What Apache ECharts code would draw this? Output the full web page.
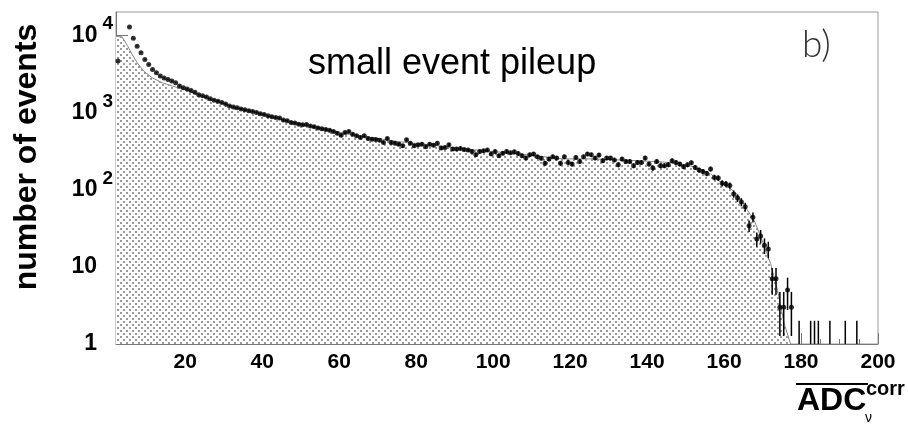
<!DOCTYPE html>
<html>
<head>
<meta charset="utf-8">
<script src="https://cdn.jsdelivr.net/npm/echarts@6/dist/echarts.min.js"></script>
<style>
html, body { margin: 0; padding: 0; background: #fff; }
#chart { width: 908px; height: 425px; }
</style>
</head>
<body>
<div id="chart"></div>
<script>
// bins are 1 wide, first bin centred on 2.5
var firstBin = 2.5;
var counts = [
  4620, null, null, 12800, 9150, 7220, 5910, 4860, 4190, 3610,
  3270, 2960, 2790, 2680, 2550, 2430, 2200, 2090, 2010,
  1920, 1820, 1700, 1640, 1580, 1500, 1440, 1400, 1340, 1290,
  1210, 1180, 1150, 1110, 1080, 1050, 1030, 1000, 960, 940,
  905, 880, 860, 845, 795, 780, 740, 730, 705, 690,
  700, 665, 650, 630, 615, 600,
  589, 566, 539, 508, 549, 566, 523, 497, 473, 497, 459,
  450, 446, 437, 408, 459, 408, 400, 388, 370, 442, 400, 370,
  380, 388, 359, 388, 377, 400, 345, 352, 381, 335, 335, 341,
  330, 325, 312, 283, 312, 319, 325, 289, 312, 275, 297, 312,
  300, 309, 294, 275, 256, 283, 289, 267,
  255, 219, 249, 267, 256, 219,
  267, 225, 214, 261, 232, 267, 289, 283, 256, 280,
  237, 256, 256, 242, 210, 249, 232, 232, 204, 225,
  225, 256, 214, 190, 232, 204, 204, 210, 237, 225,
  214, 198, 210, 223, 194, 179, 172, 162, 185,
  144, 141, 121, 118, 113, 88, 78, 69, 60, 34,
  44, 23, 25, 19, 17, 7, 7, 3, 3, 5, 3
];
// single-entry bins in the tail
var tailX = [179.5, 182.5, 183.5, 184.5, 187.5, 191.5, 194.5];
var tailCounts = [1, 1, 1, 1, 1, 1, 1];

// simulated (shaded) distribution
var mcX = [2, 3.6, 4.9, 6.2, 7.5, 9.2, 11.4, 14, 16.6, 19.5, 24, 28, 32.5, 37, 41, 45.5,
  50, 54, 58.5, 62, 66, 75, 84, 92, 101, 110, 118, 126, 135, 144, 148, 152, 156.5,
  159, 161, 163.5, 166, 167.8, 169.5, 172.1, 173.9, 175.6, 177.3];
var mcY = [9700, 9500, 7430, 5640, 4400, 3430, 2810, 2430, 2200, 2000, 1650, 1400, 1180, 1040, 920, 800,
  705, 640, 580, 525, 495, 420, 378, 338, 308, 278, 250, 250, 240, 228, 218, 198, 160,
  126, 110, 86, 55, 40, 25, 11, 5, 1.85, 1];

var xLabels = [20, 40, 60, 80, 100, 120, 140, 160, 180, 200];
var xMinor = [5, 10, 15, 25, 30, 35, 45, 50, 55, 65, 70, 75, 85, 90, 95, 105, 110, 115,
  125, 130, 135, 145, 150, 155, 165, 170, 175, 185, 190, 195];
var yLabels = [1, 10, 100, 1000, 10000];
var yMinor = [2, 3, 4, 5, 6, 7, 8, 9, 20, 30, 40, 50, 60, 70, 80, 90,
  200, 300, 400, 500, 600, 700, 800, 900, 2000, 3000, 4000, 5000, 6000, 7000, 8000, 9000];

var points = [];
var bars = [];
for (var i = 0; i < counts.length; i++) {
  var n = counts[i];
  if (n == null) continue;
  var x = firstBin + i;
  points.push([x, n]);
  bars.push([x, Math.max(n - Math.sqrt(n), 1), n + Math.sqrt(n)]);
}
for (var j = 0; j < tailX.length; j++) {
  var t = tailCounts[j];
  bars.push([tailX[j], Math.max(t - Math.sqrt(t), 1), t + Math.sqrt(t)]);
}
var mcData = [];
for (var k = 0; k < mcX.length; k++) mcData.push([mcX[k], mcY[k]]);

// dotted fill
var pat = document.createElement('canvas');
pat.width = 6; pat.height = 6;
var pc = pat.getContext('2d');
pc.fillStyle = '#fff';
pc.fillRect(0, 0, 6, 6);
pc.fillStyle = '#9a9a9a';
pc.fillRect(0, 0, 2, 2);
pc.fillRect(3, 3, 2, 2);

var font = 'Liberation Sans, Arial, Helvetica, sans-serif';
var myChart = echarts.init(document.getElementById('chart'));

var option = {
  backgroundColor: '#fff',
  animation: false,
  grid: {
    left: 116, right: 30, top: 12, bottom: 81,
    show: true, borderColor: '#999', borderWidth: 1,
    containLabel: false, outerBoundsMode: 'none'
  },
  xAxis: [{
    type: 'value', min: 2, max: 200,
    axisLine: { lineStyle: { color: '#777', width: 1 } },
    axisTick: { inside: true, length: 11, customValues: xLabels, lineStyle: { color: '#777' } },
    axisLabel: {
      customValues: xLabels, margin: 8,
      color: '#000', fontSize: 21, fontWeight: 'bold', fontFamily: font
    },
    splitLine: { show: false }
  }, {
    type: 'value', min: 2, max: 200, position: 'bottom',
    axisLine: { show: false },
    axisTick: { inside: true, length: 5, customValues: xMinor, lineStyle: { color: '#777' } },
    axisLabel: { show: false },
    splitLine: { show: false }
  }],
  yAxis: [{
    type: 'log', min: 1, max: 20000,
    axisLine: { lineStyle: { color: '#777', width: 1 } },
    axisTick: { inside: true, length: 12, customValues: yLabels, lineStyle: { color: '#777' } },
    axisLabel: {
      customValues: yLabels, margin: 3,
      formatter: function (v) {
        var e = Math.round(Math.log10(v));
        if (e === 0) return '{b|1}{p| }';
        if (e === 1) return '{b|10}{p| }';
        return '{b|10}{s|' + e + '}';
      },
      rich: {
        b: { fontSize: 23, fontWeight: 'bold', fontFamily: font, color: '#000' },
        s: { fontSize: 19, fontWeight: 'bold', fontFamily: font, color: '#000', padding: [0, 0, 22, 5] },
        p: { width: 16, fontSize: 19 }
      }
    },
    splitLine: { show: false }
  }, {
    type: 'log', min: 1, max: 20000, position: 'left',
    axisLine: { show: false },
    axisTick: { inside: true, length: 6, customValues: yMinor, lineStyle: { color: '#777' } },
    axisLabel: { show: false },
    splitLine: { show: false }
  }],
  graphic: [
    {
      type: 'text', x: 308, y: 64,
      style: { text: 'small event pileup', fontSize: 36, fontFamily: font, fill: '#000',
        align: 'left', verticalAlign: 'middle' }
    },
    {
      type: 'text', x: 802, y: 45,
      style: { text: 'b)', fontSize: 37, fontFamily: 'Lato, DejaVu Sans', fontWeight: 300, fill: '#333',
        align: 'left', verticalAlign: 'middle' }
    },
    {
      type: 'text', x: 27, y: 157, rotation: Math.PI / 2,
      style: { text: 'number of events', fontSize: 32, fontWeight: 'bold', fontFamily: font, fill: '#000',
        align: 'center', verticalAlign: 'middle' }
    },
    {
      type: 'line', shape: { x1: 796, y1: 384, x2: 868, y2: 384 },
      style: { stroke: '#000', lineWidth: 2 }
    },
    {
      type: 'text', x: 797, y: 401,
      style: { text: 'ADC', fontSize: 32, fontWeight: 'bold', fontFamily: font, fill: '#000',
        align: 'left', verticalAlign: 'middle' }
    },
    {
      type: 'text', x: 866, y: 389,
      style: { text: 'corr', fontSize: 20, fontWeight: 'bold', fontFamily: font, fill: '#000',
        align: 'left', verticalAlign: 'middle' }
    },
    {
      type: 'text', x: 865, y: 418,
      style: { text: 'ν', fontSize: 14, fontFamily: font, fill: '#000',
        align: 'left', verticalAlign: 'middle' }
    }
  ],
  series: [
    {
      name: 'mc', type: 'line', data: mcData, showSymbol: false, symbol: 'none',
      lineStyle: { color: '#888', width: 1 },
      areaStyle: { color: { image: pat, repeat: 'repeat' }, opacity: 1, origin: 'start' },
      z: 1
    },
    {
      name: 'errors', type: 'custom', data: bars, clip: true,
      encode: { x: 0, y: [1, 2] },
      renderItem: function (params, api) {
        var a = api.coord([api.value(0), api.value(1)]);
        var b = api.coord([api.value(0), api.value(2)]);
        return {
          type: 'line',
          shape: { x1: a[0], y1: a[1], x2: b[0], y2: b[1] },
          style: { stroke: '#000', lineWidth: 1.5 }
        };
      },
      z: 3
    },
    {
      name: 'data', type: 'scatter', data: points, symbol: 'circle', symbolSize: 5,
      itemStyle: { color: '#000' }, z: 4
    }
  ]
};
myChart.setOption(option);
</script>
</body>
</html>
